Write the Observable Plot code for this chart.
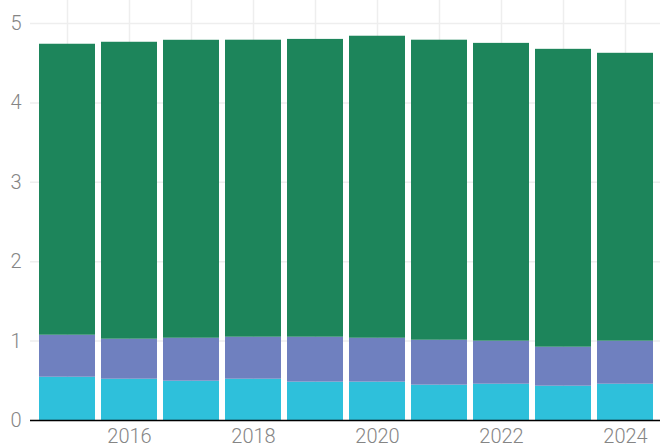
<!DOCTYPE html>
<html><head>
<meta charset="utf-8">
<script src="https://cdn.jsdelivr.net/npm/d3@7"></script>
<script src="https://cdn.jsdelivr.net/npm/@observablehq/plot@0.6"></script>
<style>
body{margin:0;background:#fff;}
svg{display:block;}
svg text{font-weight:300;}
</style>
</head><body>
<div id="chart"></div>
<script>
const years = [2015, 2016, 2017, 2018, 2019, 2020, 2021, 2022, 2023, 2024];
const seriesNames = ["Series A", "Series B", "Series C"];
const seriesA = [0.545, 0.52, 0.495, 0.52, 0.483, 0.483, 0.445, 0.457, 0.432, 0.457];
const seriesB = [0.529, 0.504, 0.541, 0.529, 0.566, 0.553, 0.566, 0.542, 0.491, 0.542];
const seriesC = [3.665, 3.74, 3.753, 3.741, 3.751, 3.804, 3.779, 3.751, 3.752, 3.626];
const colors = ["#2ec0db", "#6f80bf", "#1d855b"];
const yTicks = [0, 1, 2, 3, 4, 5];

const allSeries = [seriesA, seriesB, seriesC];
const data = [];
seriesNames.forEach((name, i) => {
  years.forEach((yr, j) => data.push({year: yr, series: name, value: allSeries[i][j]}));
});

const fontFamily = "Roboto, 'Open Sans', sans-serif";

const chart = Plot.plot({
  width: 660,
  height: 448,
  marginLeft: 30,
  marginRight: -2,
  marginTop: 0,
  marginBottom: 28,
  style: {fontFamily, fontSize: "20px", color: "#808080", background: "#fff"},
  x: {type: "band", domain: years, paddingInner: 0.09, paddingOuter: 0.1, label: null},
  y: {domain: [0, 5.29], label: null},
  color: {domain: seriesNames, range: colors},
  marks: [
    Plot.gridX(years, {stroke: "#eeeeee", strokeOpacity: 1, strokeWidth: 1.5}),
    Plot.gridY(yTicks, {stroke: "#eeeeee", strokeOpacity: 1, strokeWidth: 1.5}),
    Plot.barY(data, {x: "year", y: "value", fill: "series", order: seriesNames}),
    Plot.ruleY([0], {stroke: "#000", strokeWidth: 1.5}),
    Plot.axisX(years, {tickSize: 0, tickPadding: 8, fill: "#858585", fontSize: 20,
      tickFormat: d => d % 2 === 0 ? String(d) : "", label: null}),
    Plot.axisY(yTicks, {tickSize: 0, tickPadding: 9, fill: "#858585", fontSize: 20,
      tickFormat: d => String(d), label: null})
  ]
});
document.getElementById("chart").appendChild(chart);
</script>
</body></html>
